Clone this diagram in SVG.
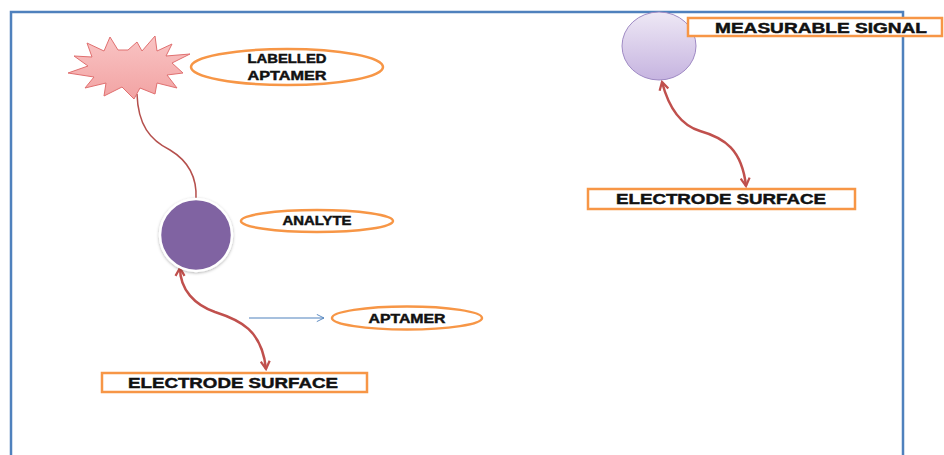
<svg xmlns="http://www.w3.org/2000/svg" width="944" height="455" viewBox="0 0 944 455">
<defs>
<style>
.lbl{font-family:"Liberation Sans",Arial,sans-serif;font-weight:bold;fill:#111;stroke:#111;stroke-width:0.45;}
.orange{fill:#fff;stroke:#F79646;stroke-width:2.5;}
.red{fill:none;stroke:#C0504D;stroke-width:2.5;}
.thin{fill:none;stroke:#B5504D;stroke-width:1.5;}
</style>
<marker id="rh" viewBox="0 0 10 10" refX="8" refY="5" markerWidth="4.5" markerHeight="4.5" orient="auto-start-reverse" markerUnits="strokeWidth">
<path d="M1,1 L8,5 L1,9" fill="none" stroke="#C0504D" stroke-width="2"/>
</marker>
<marker id="bh" viewBox="0 0 10 10" refX="9" refY="5" markerWidth="9" markerHeight="9" orient="auto" markerUnits="strokeWidth">
<path d="M1,1 L9,5 L1,9" fill="none" stroke="#4F81BD" stroke-width="1"/>
</marker>
<linearGradient id="sig" x1="0" y1="0" x2="0" y2="1">
<stop offset="0" stop-color="#EEE8F5"/>
<stop offset="1" stop-color="#C6B4E0"/>
</linearGradient>
<linearGradient id="star" x1="0" y1="0" x2="0" y2="1">
<stop offset="0" stop-color="#F9C4C4"/>
<stop offset="1" stop-color="#F2A3A3"/>
</linearGradient>
<filter id="sh" x="-20%" y="-20%" width="140%" height="140%">
<feDropShadow dx="0" dy="1" stdDeviation="1.5" flood-color="#000" flood-opacity="0.3"/>
</filter>
</defs>
<rect x="0" y="0" width="944" height="455" fill="#fff"/>
<path d="M11,460 L11,12 L903,12 L903,460" fill="none" stroke="#4F81BD" stroke-width="2.5"/>

<g id="connectors">
<path class="thin" d="M137,94 C138,125 150,140 170,150 C190,162 197,180 196,199"/>
<path class="red" marker-start="url(#rh)" marker-end="url(#rh)" d="M180,268 C180,290 195,305 215,312 C240,320 262,330 266,369"/>
<path fill="none" stroke="#4F81BD" stroke-width="1" marker-end="url(#bh)" d="M249,318 L324,318"/>
<path class="red" marker-start="url(#rh)" marker-end="url(#rh)" d="M662,82 C668,105 680,125 700,131 C725,138 742,150 746,186"/>
</g>

<g id="labelled-aptamer-star">
<polygon fill="url(#star)" stroke="#E07070" stroke-width="1" points="128,50 137,42 142,51 155,36 157,51 172,44 166,56 190,54 172,63 183,73 167,75 177,88 157,83 155,94 140,88 134,99 122,87 104,96 106,83 85,88 94,77 68,73 88,66 74,56 92,57 87,43 104,51 110,37 118,50"/>
</g>
<g id="labelled-aptamer-label">
<ellipse class="orange" cx="287" cy="67" rx="96" ry="18"/>
<text class="lbl" font-size="12.5" x="287" y="63" text-anchor="middle" textLength="79" lengthAdjust="spacingAndGlyphs">LABELLED</text>
<text class="lbl" font-size="12.5" x="287" y="80" text-anchor="middle" textLength="79" lengthAdjust="spacingAndGlyphs">APTAMER</text>
</g>

<g id="analyte">
<circle cx="196" cy="235" r="36" fill="#8064A2" stroke="#fff" stroke-width="2.5" filter="url(#sh)"/>
</g>
<g id="analyte-label">
<ellipse class="orange" cx="317" cy="221" rx="76" ry="11"/>
<text class="lbl" font-size="12" x="317" y="225" text-anchor="middle" textLength="69" lengthAdjust="spacingAndGlyphs">ANALYTE</text>
</g>

<g id="aptamer-label">
<ellipse class="orange" cx="407" cy="318" rx="75" ry="11.5"/>
<text class="lbl" font-size="12.5" x="407" y="323" text-anchor="middle" textLength="77" lengthAdjust="spacingAndGlyphs">APTAMER</text>
</g>

<g id="electrode-left">
<rect class="orange" x="102" y="373" width="265" height="19"/>
<text class="lbl" font-size="15" x="233" y="388" text-anchor="middle" textLength="210" lengthAdjust="spacingAndGlyphs">ELECTRODE SURFACE</text>
</g>

<g id="signal">
<ellipse cx="659" cy="46" rx="37" ry="34" fill="url(#sig)" stroke="#9F8AC4" stroke-width="1"/>
</g>
<g id="signal-label">
<rect class="orange" x="688" y="18" width="254" height="18"/>
<text class="lbl" font-size="14.5" x="821" y="33" text-anchor="middle" textLength="212" lengthAdjust="spacingAndGlyphs">MEASURABLE SIGNAL</text>
</g>

<g id="electrode-right">
<rect class="orange" x="588" y="189" width="267" height="20"/>
<text class="lbl" font-size="15" x="721" y="204" text-anchor="middle" textLength="210" lengthAdjust="spacingAndGlyphs">ELECTRODE SURFACE</text>
</g>
</svg>
